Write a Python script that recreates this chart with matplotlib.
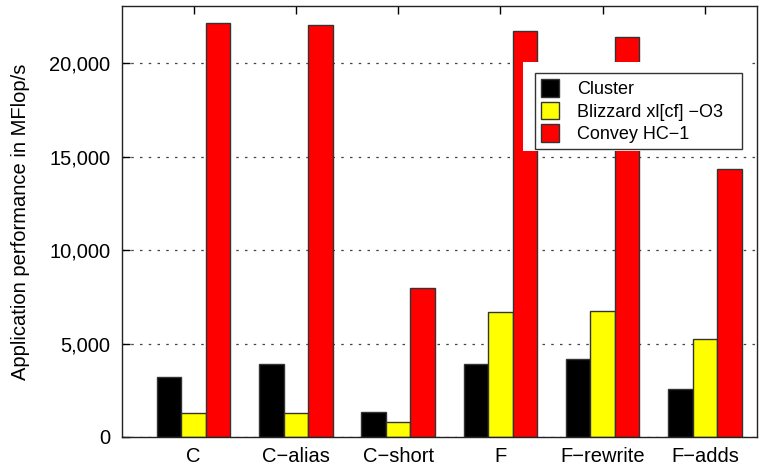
import matplotlib
matplotlib.use("Agg")
import matplotlib.pyplot as plt
import numpy as np
from matplotlib.patches import Rectangle
from matplotlib.ticker import FuncFormatter

plt.rcParams["font.family"] = ["Liberation Sans", "DejaVu Sans"]

categories = ["C", "C\u2212alias", "C\u2212short", "F", "F\u2212rewrite", "F\u2212adds"]
series_names = ["Cluster", "Blizzard xl[cf] \u2212O3", "Convey HC\u22121"]
cluster = [3200, 3900, 1360, 3900, 4170, 2570]
blizzard = [1300, 1290, 820, 6670, 6720, 5240]
convey = [22160, 22020, 7950, 21700, 21380, 14320]
colors = ["#000000", "#ffff00", "#ff0000"]

fig = plt.figure(figsize=(7.64, 4.74), dpi=100)
ax = fig.add_axes([122 / 764, 1 - 437 / 474, 635 / 764, 431 / 474])

x = np.arange(len(categories))
width = 0.24
for i, (vals, name, col) in enumerate(zip([cluster, blizzard, convey], series_names, colors)):
    ax.bar(x + (i - 1) * width, vals, width, color=col, edgecolor="#333333",
           linewidth=1.0, label=name, zorder=2)

ax.set_xlim(-0.7, 5.51)
ax.set_ylim(0, 23050)
ax.set_yticks([0, 5000, 10000, 15000, 20000])
ax.yaxis.set_major_formatter(FuncFormatter(lambda v, p: f"{int(v):,}"))
ax.set_xticks(x)
ax.set_xticklabels(categories)
ax.tick_params(axis="both", direction="in", labelsize=14.5, length=6, width=1,
               top=True, right=False)
ax.tick_params(axis="y", pad=8.5)
ax.tick_params(axis="x", bottom=False, pad=7.5)
ax.grid(axis="y", linestyle=(0, (2, 5)), color="#444444", linewidth=0.9, zorder=1)
for s in ax.spines.values():
    s.set_color("#222222")
    s.set_linewidth(1.0)
ax.set_ylabel("Application performance in MFlop/s", fontsize=14.5, labelpad=14)

# white area behind the key, as in the original
ax.add_patch(Rectangle((0.631, 0.663), 0.36, 0.207, transform=ax.transAxes,
                       facecolor="white", edgecolor="none", zorder=3))
leg = ax.legend(loc="upper left", bbox_to_anchor=(0.650, 0.6775, 0.326, 0.167),
                mode="expand", fontsize=13,
                frameon=True, fancybox=False, framealpha=1, edgecolor="#333333",
                handlelength=1.0, handleheight=1.1, labelspacing=0.2,
                borderpad=0.35, handletextpad=1.0, borderaxespad=0)
leg.set_zorder(4)
leg.get_frame().set_linewidth(1.0)

fig.savefig("out.png", dpi=100)
